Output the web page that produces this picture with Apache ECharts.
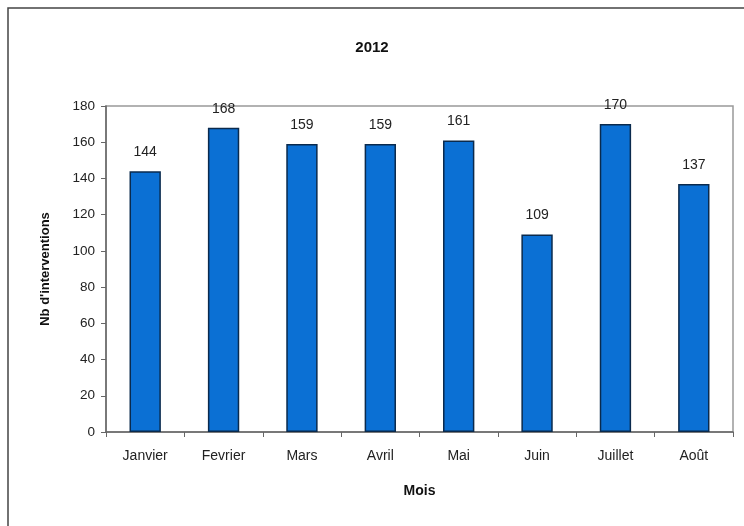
<!DOCTYPE html>
<html><head><meta charset="utf-8">
<script src="https://cdn.jsdelivr.net/npm/echarts@6/dist/echarts.min.js"></script>
<style>html,body{margin:0;padding:0;background:#fff}#c{width:744px;height:526px}</style>
</head><body><div id="c"></div>
<script>
const categories = ['Janvier','Fevrier','Mars','Avril','Mai','Juin','Juillet','Août'];
const values = [144,168,159,159,161,109,170,137];
const titleText = '2012';
const yName = "Nb d'interventions";
const xName = 'Mois';

const chart = echarts.init(document.getElementById('c'));
const font = 'Liberation Sans, Arial, sans-serif';
chart.setOption({
  animation:false,
  backgroundColor:'#fff',
  title:{text:titleText,left:'center',top:35,textStyle:{fontFamily:font,fontSize:15,fontWeight:'bold',color:'#111'}},
  graphic:[
    {type:'rect',shape:{x:8,y:8,width:800,height:600},style:{fill:'none',stroke:'#444',lineWidth:1.5},silent:true},
    {type:'rect',shape:{x:106,y:106,width:627,height:326},style:{fill:'none',stroke:'#999',lineWidth:1.5},silent:true,z:-1}
  ],
  grid:{left:106,right:11,top:106,bottom:94},
  xAxis:{type:'category',data:categories,
    name:xName,nameLocation:'middle',nameGap:52,
    nameTextStyle:{fontFamily:font,fontSize:14,fontWeight:'bold',color:'#111'},
    axisLine:{lineStyle:{color:'#666',width:1.5}},
    axisTick:{show:true,alignWithLabel:false,length:5,lineStyle:{color:'#666'}},
    axisLabel:{fontFamily:font,fontSize:14,color:'#222',margin:17}},
  yAxis:{type:'value',min:0,max:180,interval:20,
    name:yName,nameLocation:'middle',nameGap:54,
    nameTextStyle:{fontFamily:font,fontSize:13,fontWeight:'bold',color:'#111'},
    axisLine:{show:true,lineStyle:{color:'#666',width:1.5}},
    axisTick:{show:true,length:5,lineStyle:{color:'#666'}},
    splitLine:{show:false},
    axisLabel:{fontFamily:font,fontSize:13.5,color:'#222',margin:11}},
  series:[{type:'bar',data:values,barWidth:'40%',
    itemStyle:{color:'#0B70D4',borderColor:'#0a2a4d',borderWidth:1.5},
    label:{show:true,position:'top',distance:12,fontFamily:font,fontSize:14,color:'#222'}}]
});
</script></body></html>
